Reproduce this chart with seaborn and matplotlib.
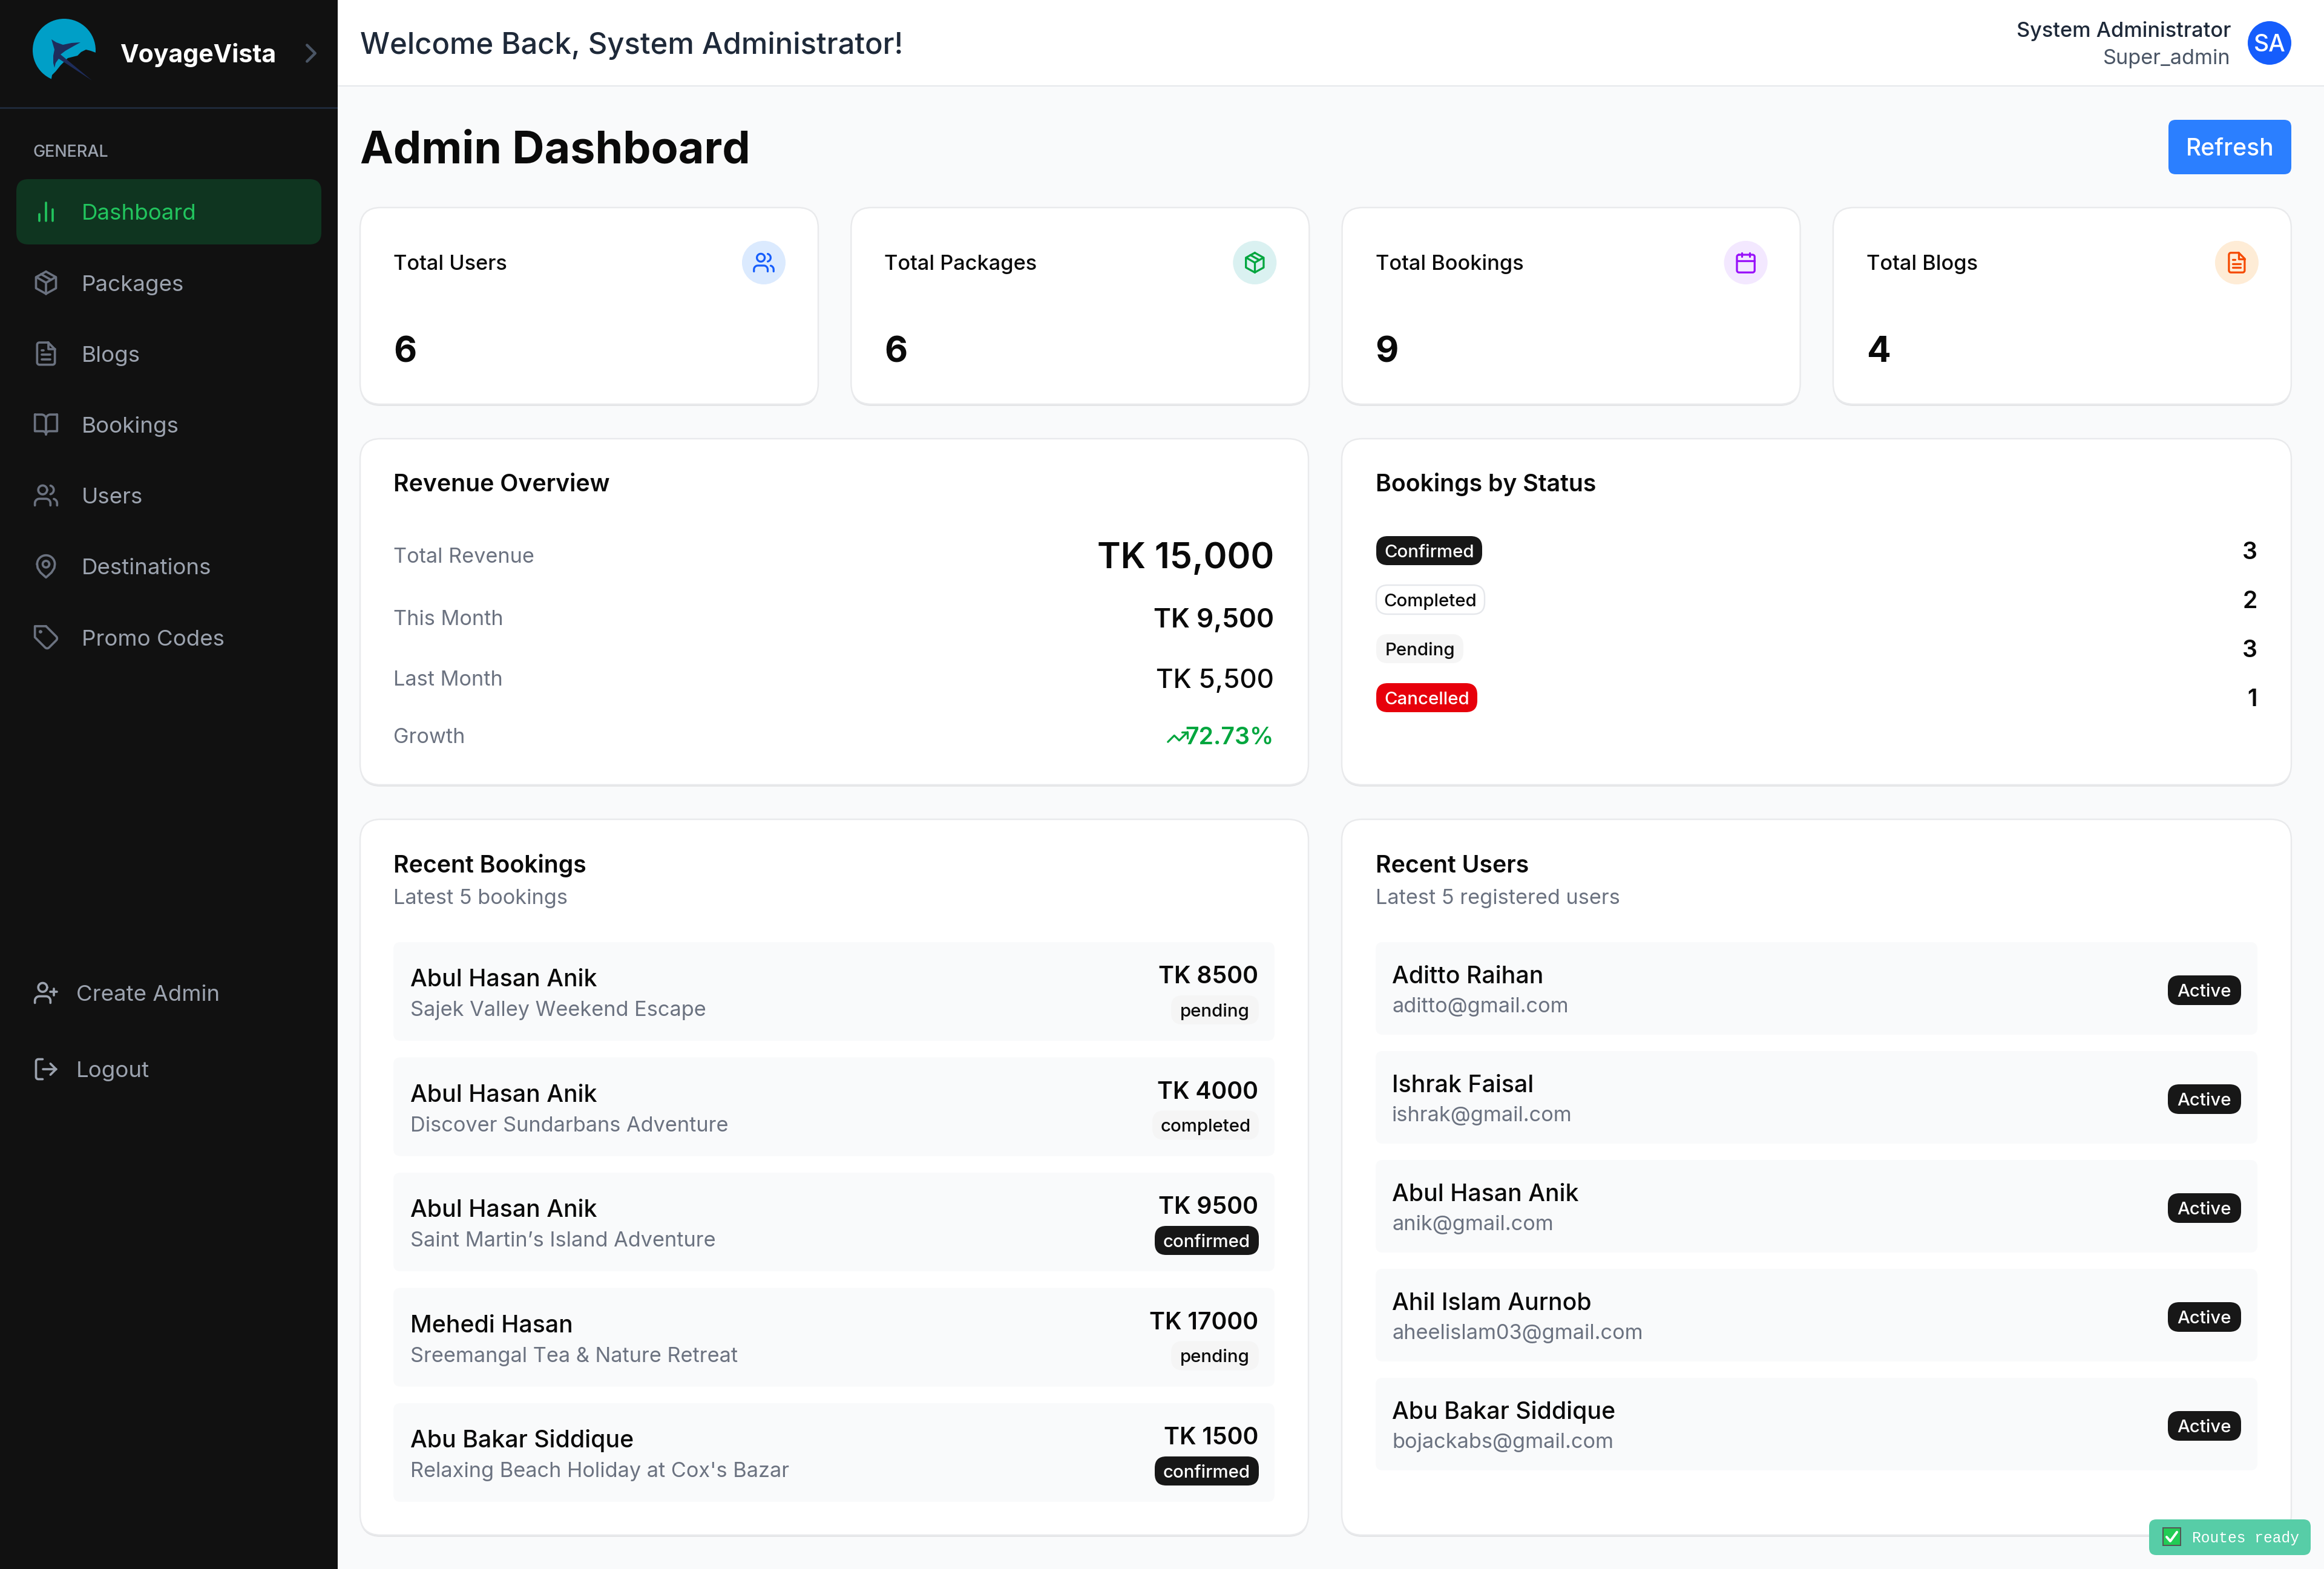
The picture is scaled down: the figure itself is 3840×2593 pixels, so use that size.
#!/usr/bin/env python3
# -*- coding: utf-8 -*-
"""
Admin dashboard screenshot redrawn on one pixel-sized matplotlib axes.
"""

import numpy as np
import matplotlib

matplotlib.use("Agg")
import matplotlib.pyplot as plt
from matplotlib.patches import Circle, FancyBboxPatch, Polygon, Rectangle
import seaborn as sns

# ---- data ----
nav_labels = ["Dashboard", "Packages", "Blogs", "Bookings", "Users", "Destinations", "Promo Codes"]
nav_icons = ["bars", "package", "file", "book", "users", "pin", "tag"]
footer_labels = ["Create Admin", "Logout"]
footer_icons = ["user_plus", "log_out"]

stat_titles = ["Total Users", "Total Packages", "Total Bookings", "Total Blogs"]
stat_values = [6, 6, 9, 4]
stat_icons = ["users", "package", "calendar", "file"]

revenue_labels = ["Total Revenue", "This Month", "Last Month", "Growth"]
revenue_values = ["TK 15,000", "TK 9,500", "TK 5,500", "72.73%"]

status_labels = ["Confirmed", "Completed", "Pending", "Cancelled"]
status_counts = [3, 2, 3, 1]

booking_names = ["Abul Hasan Anik", "Abul Hasan Anik", "Abul Hasan Anik", "Mehedi Hasan", "Abu Bakar Siddique"]
booking_packages = [
    "Sajek Valley Weekend Escape",
    "Discover Sundarbans Adventure",
    "Saint Martin’s Island Adventure",
    "Sreemangal Tea & Nature Retreat",
    "Relaxing Beach Holiday at Cox's Bazar",
]
booking_amounts = [8500, 4000, 9500, 17000, 1500]
booking_status = ["pending", "completed", "confirmed", "pending", "confirmed"]

user_names = ["Aditto Raihan", "Ishrak Faisal", "Abul Hasan Anik", "Ahil Islam Aurnob", "Abu Bakar Siddique"]
user_emails = [
    "aditto@gmail.com",
    "ishrak@gmail.com",
    "anik@gmail.com",
    "aheelislam03@gmail.com",
    "bojackabs@gmail.com",
]

# ---- colours ----
INK = "#0a0a0a"
MUTED = "#6b7280"
NAV_TEXT = "#9ca3af"
NAV_ICON = "#6b7280"
BORDER = "#e9eaec"
PAGE = "#f9fafb"
DARK = "#171717"
GREEN = "#00a63e"
STAT_COLORS = [("#dbeafe", "#155dfc"), ("#daf1f1", "#00a63e"), ("#f3e8ff", "#9810fa"), ("#feecd6", "#f54a00")]
STATUS_STYLE = {
    "Confirmed": (DARK, "white", None),
    "Completed": ("white", INK, "#e5e7eb"),
    "Pending": ("#f5f5f5", INK, None),
    "Cancelled": ("#e7000b", "white", None),
    "pending": ("#f5f5f5", INK, None),
    "completed": ("#f5f5f5", INK, None),
    "confirmed": (DARK, "white", None),
}


def arc(cx, cy, r, a0, a1, n=14):
    t = np.radians(np.linspace(a0, a1, n))
    return list(zip(cx + r * np.cos(t), cy + r * np.sin(t)))


# lucide style icons on their 24 unit grid
ICONS = {
    "bars": [[(18, 20), (18, 10)], [(12, 20), (12, 4)], [(6, 20), (6, 14)]],
    "package": [
        [(12, 2), (21, 7), (21, 17), (12, 22), (3, 17), (3, 7), (12, 2)],
        [(3.3, 7), (12, 12), (20.7, 7)],
        [(12, 22), (12, 12)],
        [(7.5, 4.3), (16.5, 9.4)],
    ],
    "file": [
        [(14, 2), (6, 2), *arc(6, 4, 2, -90, -180, 6), (4, 20), *arc(6, 20, 2, 180, 90, 6), (18, 22),
         *arc(18, 20, 2, 90, 0, 6), (20, 8), (14, 2)],
        [(14, 2), (14, 8), (20, 8)],
        [(8, 13), (16, 13)],
        [(8, 17), (16, 17)],
        [(8, 9), (10, 9)],
    ],
    "book": [
        [(2, 3), (8, 3), *arc(8, 7, 4, -90, 0, 8), (12, 21), *arc(9, 21, 3, 0, -90, 8), (2, 18), (2, 3)],
        [(22, 3), (16, 3), *arc(16, 7, 4, -90, -180, 8), (12, 21), *arc(15, 21, 3, 180, 270, 8), (22, 18), (22, 3)],
    ],
    "users": [
        arc(9, 7, 4, 0, 360, 28),
        [(16, 21), (16, 19), *arc(12, 19, 4, 0, -90, 8), (6, 15), *arc(6, 19, 4, -90, -180, 8), (2, 21)],
        [(22, 21), (22, 19), *arc(18, 19, 4, 0, -75, 8)],
        arc(15, 7, 4, -75, 75, 12),
    ],
    "pin": [
        [*arc(12, 10, 8, 180, 360, 20), (19.5, 13.5), (17, 17.5), (12, 22), (7, 17.5), (4.5, 13.5), (4, 10)],
        arc(12, 10, 3, 0, 360, 20),
    ],
    "tag": [
        [(12, 2), (2, 2), (2, 12), (11.3, 21.3), (12, 21.8), (13, 22), (14, 21.8), (14.7, 21.3), (21.3, 14.7),
         (21.8, 14), (22, 13), (21.8, 12), (21.3, 11.3), (12, 2)],
        arc(7, 7, 0.6, 0, 360, 10),
    ],
    "calendar": [
        [(5, 4), (19, 4), *arc(19, 6, 2, -90, 0, 6), (21, 20), *arc(19, 20, 2, 0, 90, 6), (5, 22),
         *arc(5, 20, 2, 90, 180, 6), (3, 6), *arc(5, 6, 2, 180, 270, 6)],
        [(16, 2), (16, 6)],
        [(8, 2), (8, 6)],
        [(3, 10), (21, 10)],
    ],
    "trend": [[(22, 7), (13.5, 15.5), (8.5, 10.5), (2, 17)], [(16, 7), (22, 7), (22, 13)]],
    "user_plus": [
        arc(9, 7, 4, 0, 360, 28),
        [(16, 21), (16, 19), *arc(12, 19, 4, 0, -90, 8), (6, 15), *arc(6, 19, 4, -90, -180, 8), (2, 21)],
        [(19, 8), (19, 14)],
        [(22, 11), (16, 11)],
    ],
    "log_out": [
        [(9, 21), (5, 21), *arc(5, 19, 2, 90, 180, 6), (3, 5), *arc(5, 5, 2, 180, 270, 6), (9, 3)],
        [(16, 17), (21, 12), (16, 7)],
        [(21, 12), (9, 12)],
    ],
    "chevron": [[(9, 18), (15, 12), (9, 6)]],
}


def px(value):
    # the figure is 100 dpi, so one pixel is 0.72 pt
    return value * 0.72


def box(ax, x0, y0, x1, y1, r, fill, edge=None, lw=0, z=1):
    patch = FancyBboxPatch(
        (x0, y0), x1 - x0, y1 - y0,
        boxstyle=f"round,pad=0,rounding_size={r}",
        facecolor=fill, edgecolor=edge if edge else "none", linewidth=px(lw), zorder=z,
    )
    ax.add_patch(patch)


def label(ax, x, cy, s, size, color=INK, weight="normal", ha="left", family=None, z=5):
    # cy is the middle of the capitals; Inter caps are 0.727 em high
    ax.text(
        x, cy + 0.3635 * size, s, fontsize=px(size), color=color, fontweight=weight,
        ha=ha, va="baseline", family=family if family else ["Inter", "DejaVu Sans"], zorder=z,
    )


def icon(ax, name, cx, cy, size, color, lw=2.0, z=5):
    k = size / 24
    for line in ICONS[name]:
        pts = np.array(line, dtype=float)
        ax.plot(
            cx + (pts[:, 0] - 12) * k, cy + (pts[:, 1] - 12) * k, color=color, linewidth=px(lw * k),
            solid_capstyle="round", solid_joinstyle="round", zorder=z,
        )


def card(ax, x0, y0, x1, y1):
    box(ax, x0, y0 + 3, x1, y1 + 3, 34, "#e4e5e7", z=1)
    box(ax, x0, y0, x1, y1, 34, "white", BORDER, 2.4, z=2)


def badge(ax, x0, x1, y0, y1, text, anchor="center"):
    fill, ink, edge = STATUS_STYLE[text]
    box(ax, x0, y0, x1, y1, 19, fill, edge, 2.4 if edge else 0, z=4)
    label(ax, (x0 + x1) / 2, (y0 + y1) / 2, text, 29.4, ink, "medium", ha="center")


def draw_logo(ax):
    ax.add_patch(Circle((106, 83), 52, facecolor="#009fc7", edgecolor="none", zorder=2))
    ax.add_patch(Polygon(
        [(158, 87), (150, 84), (142, 82), (134, 86), (128, 92), (112, 96), (100, 108), (92, 118), (86, 124),
         (84, 136), (170, 140), (170, 87)],
        closed=True, facecolor="#111111", edgecolor="none", zorder=3,
    ))
    ax.add_patch(Polygon(
        [(85, 65), (93, 70), (104, 74), (118, 71), (133, 70), (122, 76), (108, 84), (100, 90), (152, 133), (97, 97),
         (92, 104), (90, 112), (88, 104), (88, 92), (90, 82)],
        closed=True, facecolor="#1e2d5c", edgecolor="none", zorder=4,
    ))


def draw_sidebar(ax):
    ax.add_patch(Rectangle((0, 0), 558, 2593, facecolor="#111111", edgecolor="none", zorder=1))
    ax.add_patch(Rectangle((0, 177), 558, 2.5, facecolor="#1e2939", edgecolor="none", zorder=2))
    draw_logo(ax)
    label(ax, 198, 88, "VoyageVista", 41, "white", "bold")
    icon(ax, "chevron", 514, 88, 54, "#4a5565", 2.0)
    label(ax, 55, 249.5, "GENERAL", 27, NAV_TEXT, "medium")

    box(ax, 27, 296, 531, 404, 20, "#0f3520", z=2)
    for i, (name, glyph) in enumerate(zip(nav_labels, nav_icons)):
        cy = 350 + i * 117.2
        active = i == 0
        label(ax, 135, cy, name, 36.7, "#22c55e" if active else NAV_TEXT)
        icon(ax, glyph, 76, cy, 44, "#22c55e" if active else NAV_ICON)

    for name, glyph, cy in zip(footer_labels, footer_icons, [1641, 1767]):
        label(ax, 126, cy, name, 36.7, NAV_TEXT)
        icon(ax, glyph, 76, cy, 44, NAV_TEXT)


def draw_header(ax):
    ax.add_patch(Rectangle((558, 0), 3282, 142, facecolor="white", edgecolor="none", zorder=1))
    ax.add_patch(Rectangle((558, 141), 3282, 2.4, facecolor="#e5e7eb", edgecolor="none", zorder=2))
    label(ax, 595, 71, "Welcome Back, System Administrator!", 49, "#1e2939", "medium")
    label(ax, 3686, 49, "System Administrator", 34.3, "#1e2939", "medium", ha="right")
    label(ax, 3686, 94, "Super_admin", 34.3, "#4a5565", ha="right")
    ax.add_patch(Circle((3750, 71), 36, facecolor="#155dfc", edgecolor="none", zorder=2))
    label(ax, 3750, 71, "SA", 39, "white", "medium", ha="center")

    label(ax, 595, 243, "Admin Dashboard", 73.5, INK, "bold")
    box(ax, 3583, 198, 3786, 288, 12, "#2b7fff", z=2)
    label(ax, 3684.5, 243, "Refresh", 39, "white", "medium", ha="center")


def draw_stats(ax):
    for i, (title, value, glyph) in enumerate(zip(stat_titles, stat_values, stat_icons)):
        x0 = 595 + i * 811.3
        x1 = x0 + 757
        card(ax, x0, 343, x1, 668)
        label(ax, x0 + 55, 434, title, 34.3, INK, "medium")
        label(ax, x0 + 55, 577, str(value), 58.8, INK, "bold")
        soft, strong = STAT_COLORS[i]
        ax.add_patch(Circle((x1 - 90, 434), 36, facecolor=soft, edgecolor="none", zorder=3))
        icon(ax, glyph, x1 - 90, 434, 39, strong)


def draw_revenue(ax):
    card(ax, 595, 725, 2162, 1297)
    label(ax, 650, 798, "Revenue Overview", 39.2, INK, "semibold")
    centers = [918, 1021, 1121, 1216]
    sizes = [58.8, 44, 44, 39.2]
    weights = ["semibold", "semibold", "medium", "semibold"]
    colors = [INK, INK, INK, GREEN]
    for name, value, cy, size, weight, color in zip(revenue_labels, revenue_values, centers, sizes, weights, colors):
        label(ax, 650, cy, name, 34.3, MUTED)
        label(ax, 2105, cy, value, size, color, weight, ha="right")
    icon(ax, "trend", 1946, 1218, 39, GREEN)


def draw_status(ax):
    card(ax, 2217, 725, 3786, 1297)
    label(ax, 2273, 798, "Bookings by Status", 39.2, INK, "semibold")
    rights = [2449, 2453, 2418, 2441]
    tops = [886, 967, 1048, 1129]
    for name, count, x1, y0 in zip(status_labels, status_counts, rights, tops):
        badge(ax, 2274, x1, y0, y0 + 48, name)
        label(ax, 3730, y0 + 24, str(count), 39.2, INK, "semibold", ha="right")


def draw_bookings(ax):
    card(ax, 595, 1354, 2162, 2537)
    label(ax, 650, 1428, "Recent Bookings", 39.2, INK, "semibold")
    label(ax, 650, 1482, "Latest 5 bookings", 34.3, MUTED)
    lefts = {"pending": 1935, "completed": 1904, "confirmed": 1908}
    for i, (name, pack, amount, status) in enumerate(
        zip(booking_names, booking_packages, booking_amounts, booking_status)
    ):
        top = 1557 + i * 190.5
        box(ax, 650, top, 2106, top + 163, 12, PAGE, z=3)
        label(ax, 678, top + 59, name, 39.2, INK, "medium")
        label(ax, 678, top + 110, pack, 34.3, MUTED)
        label(ax, 2079, top + 54, f"TK {amount}", 39.2, INK, "semibold", ha="right")
        badge(ax, lefts[status], 2080, top + 88, top + 136, status)


def draw_users(ax):
    card(ax, 2217, 1354, 3786, 2537)
    label(ax, 2273, 1428, "Recent Users", 39.2, INK, "semibold")
    label(ax, 2273, 1482, "Latest 5 registered users", 34.3, MUTED)
    for i, (name, email) in enumerate(zip(user_names, user_emails)):
        top = 1557 + i * 180
        box(ax, 2273, top, 3730, top + 153, 12, PAGE, z=3)
        label(ax, 2300, top + 54, name, 39.2, INK, "medium")
        label(ax, 2300, top + 104, email, 34.3, MUTED)
        box(ax, 3582, top + 55, 3703, top + 104, 19, DARK, z=4)
        label(ax, 3642.5, top + 79.5, "Active", 29.4, "white", "medium", ha="center")


def draw_toast(ax):
    box(ax, 3551, 2511, 3818, 2570, 12, "#57cda7", z=6)
    ax.add_patch(Rectangle((3574, 2525), 29, 29, facecolor="#22cc55", edgecolor="#555555", linewidth=px(2), zorder=7))
    ax.plot([3580, 3586, 3597], [2540, 2547, 2532], color="white", linewidth=px(4), zorder=8)
    ax.text(3622, 2549, "Routes ready", fontsize=px(24.6), color="white", family="Liberation Mono", va="baseline", zorder=8)


def main():
    sns.set_theme(style="white")
    plt.rcParams["font.family"] = ["Inter", "DejaVu Sans"]

    fig = plt.figure(figsize=(38.4, 25.93), dpi=100, facecolor=PAGE)
    ax = fig.add_axes([0, 0, 1, 1])
    ax.set_xlim(0, 3840)
    ax.set_ylim(2593, 0)
    ax.set_facecolor(PAGE)
    sns.despine(ax=ax, left=True, bottom=True)
    ax.set_xticks([])
    ax.set_yticks([])

    draw_sidebar(ax)
    draw_header(ax)
    draw_stats(ax)
    draw_revenue(ax)
    draw_status(ax)
    draw_bookings(ax)
    draw_users(ax)
    draw_toast(ax)

    fig.savefig("out.png", dpi=100, facecolor=PAGE)
    plt.close(fig)


if __name__ == "__main__":
    main()
